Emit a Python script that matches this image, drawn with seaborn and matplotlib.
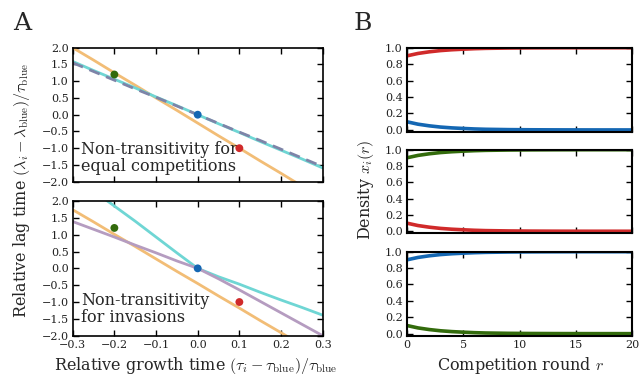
import numpy as np
import pandas as pd
import matplotlib
matplotlib.use("Agg")
import matplotlib.pyplot as plt
import seaborn as sns

# ---------------- data ----------------
# Panel A: relative growth time grid
x_grid = [-0.30, -0.25, -0.20, -0.15, -0.10, -0.05, 0.00, 0.05, 0.10, 0.15, 0.20, 0.25, 0.30]

# top: equal competitions
top_orange = [2.00, 1.63, 1.25, 0.88, 0.50, 0.13, -0.25, -0.63, -1.00, -1.38, -1.75, -2.13, -2.50]
top_cyan = [1.59, 1.32, 1.06, 0.80, 0.53, 0.27, 0.00, -0.27, -0.53, -0.80, -1.06, -1.32, -1.59]
top_dashed = [1.55, 1.29, 1.03, 0.77, 0.52, 0.26, 0.00, -0.26, -0.52, -0.77, -1.03, -1.29, -1.55]

# bottom: invasions
bot_orange = [1.74, 1.38, 1.01, 0.65, 0.28, -0.09, -0.45, -0.82, -1.18, -1.55, -1.91, -2.28, -2.64]
bot_purple = [1.39, 1.16, 0.93, 0.69, 0.46, 0.22, 0.00, -0.31, -0.64, -0.98, -1.32, -1.66, -2.00]
bot_cyan = [2.75, 2.30, 1.85, 1.40, 0.93, 0.46, 0.00, -0.25, -0.47, -0.71, -0.94, -1.16, -1.39]

# strains (points)
pt_x = [-0.2, 0.0, 0.1]
pt_y = [1.2, 0.0, -1.0]
pt_names = ["green", "blue", "red"]

# Panel B: density vs competition round
rounds = list(range(0, 21))
winner = [0.90, 0.930, 0.950, 0.965, 0.975, 0.982, 0.988, 0.992, 0.994, 0.996, 0.997,
          0.998, 0.9985, 0.999, 0.9993, 0.9995, 0.9997, 0.9998, 0.9998, 0.9999, 0.9999]
loser = [0.10, 0.070, 0.050, 0.035, 0.025, 0.018, 0.012, 0.008, 0.006, 0.004, 0.003,
         0.002, 0.0015, 0.001, 0.0007, 0.0005, 0.0003, 0.0002, 0.0002, 0.0001, 0.0001]
competitions = [("red", "blue"), ("green", "red"), ("blue", "green")]

# ---------------- style ----------------
sns.set_style("ticks")
plt.rcParams["font.family"] = ["DejaVu Serif"]
plt.rcParams["mathtext.fontset"] = "cm"
plt.rcParams["axes.unicode_minus"] = True

C_ORANGE = "#F2BD76"
C_CYAN = "#6FD6D4"
C_DASH = "#7E84A8"
C_PURPLE = "#B59CC0"
COL = {"green": "#336B0C", "blue": "#1467B3", "red": "#D02A2A"}

W, H = 639, 379
fig = plt.figure(figsize=(W / 100, H / 100), dpi=100)


def rect(l, t, r, b):
    return [l / W, 1 - b / H, (r - l) / W, (b - t) / H]


def style_ax(ax, lw):
    for s in ax.spines.values():
        s.set_visible(True)
        s.set_linewidth(lw)
        s.set_color("black")
    ax.tick_params(direction="in", top=True, right=True, length=4, width=1,
                   labelsize=8, colors="black", labelcolor="#222222", pad=3)


axA1 = fig.add_axes(rect(72.7, 47.7, 322.7, 181.7))
axA2 = fig.add_axes(rect(72.7, 201, 322.7, 335.7))

# top A
sns.lineplot(x=x_grid, y=top_orange, ax=axA1, color=C_ORANGE, lw=2, sort=True)
sns.lineplot(x=x_grid, y=top_cyan, ax=axA1, color=C_CYAN, lw=2, sort=True)
sns.lineplot(x=x_grid, y=top_dashed, ax=axA1, color=C_DASH, lw=2, sort=True)
axA1.lines[-1].set_dashes((4, 2.5))
# bottom A
sns.lineplot(x=x_grid, y=bot_cyan, ax=axA2, color=C_CYAN, lw=2, sort=True)
sns.lineplot(x=x_grid, y=bot_orange, ax=axA2, color=C_ORANGE, lw=2, sort=True)
sns.lineplot(x=x_grid, y=bot_purple, ax=axA2, color=C_PURPLE, lw=2, sort=True)

dfp = pd.DataFrame({"x": pt_x, "y": pt_y, "strain": pt_names})
for ax in (axA1, axA2):
    sns.scatterplot(data=dfp, x="x", y="y", hue="strain", palette=COL, s=32,
                    edgecolor="none", ax=ax, legend=False, zorder=5)
    ax.set_xlim(-0.3, 0.3)
    ax.set_ylim(-2.0, 2.0)
    ax.set_xticks([-0.3, -0.2, -0.1, 0.0, 0.1, 0.2, 0.3])
    ax.set_yticks([-2.0, -1.5, -1.0, -0.5, 0.0, 0.5, 1.0, 1.5, 2.0])
    ax.set_xlabel("")
    ax.set_ylabel("")
    style_ax(ax, 1.2)
axA1.set_xticklabels([])

axA1.text(-0.279, -1.3, "Non-transitivity for\nequal competitions", fontsize=11.5,
          va="center", ha="left", linespacing=1.0)
axA2.text(-0.279, -1.2, "Non-transitivity\nfor invasions", fontsize=11.5,
          va="center", ha="left", linespacing=1.0)

# Panel B
b_rects = [(406.7, 47.7, 632.3, 132), (406.7, 149.7, 632.3, 233.3), (406.7, 251.7, 632.3, 335.7)]
axesB = []
for (l, t, r, b), (wname, lname) in zip(b_rects, competitions):
    ax = fig.add_axes(rect(l, t, r, b))
    sns.lineplot(x=rounds, y=loser, ax=ax, color=COL[lname], lw=2.6)
    sns.lineplot(x=rounds, y=winner, ax=ax, color=COL[wname], lw=2.6)
    ax.set_xlim(0, 20)
    ax.set_ylim(-0.025, 1.0)
    ax.set_xticks([0, 5, 10, 15, 20])
    ax.set_yticks([0.0, 0.2, 0.4, 0.6, 0.8, 1.0])
    ax.set_xlabel("")
    ax.set_ylabel("")
    style_ax(ax, 1.5)
    axesB.append(ax)
for ax in axesB[:-1]:
    ax.set_xticklabels([])

# labels
fig.text(22 / W, 1 - 190 / H, r"Relative lag time $(\lambda_i - \lambda_{\rm blue})/\tau_{\rm blue}$",
         rotation=90, ha="center", va="center", fontsize=11.5)
fig.text(196 / W, 1 - 366 / H, r"Relative growth time $(\tau_i - \tau_{\rm blue})/\tau_{\rm blue}$",
         ha="center", va="center", fontsize=11.5)
fig.text(366 / W, 1 - 190 / H, r"Density $x_i(r)$", rotation=90, ha="center", va="center",
         fontsize=11.5)
fig.text(520 / W, 1 - 366 / H, r"Competition round $r$", ha="center", va="center", fontsize=11.5)
fig.text(22 / W, 1 - 23 / H, "A", ha="center", va="center", fontsize=18)
fig.text(363 / W, 1 - 23 / H, "B", ha="center", va="center", fontsize=18)

fig.savefig("out.png", dpi=100)
